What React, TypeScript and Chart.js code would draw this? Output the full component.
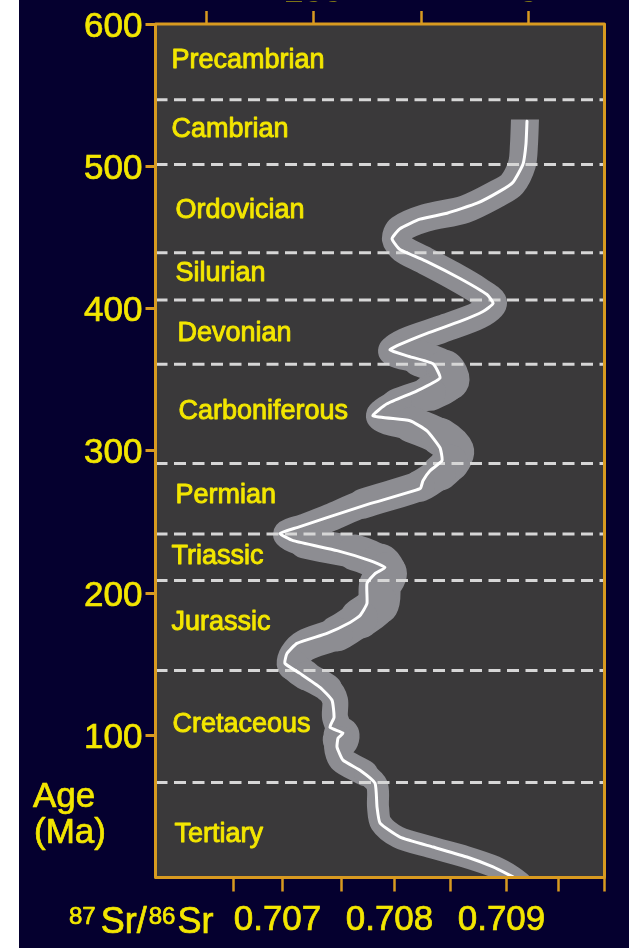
import { useEffect, useRef } from 'react';
import { Chart, registerables } from 'chart.js';

Chart.register(...registerables);

// ---------------- data ----------------
// White seawater 87Sr/86Sr curve: age (Ma) and ratio
const CURVE_AGE = [
  531.6, 515.8, 501.4, 488.8, 482.5, 474.0, 467.0, 462.8, 456.1, 449.1,
  441.4, 433.0, 421.1, 409.8, 403.5, 397.9, 390.9, 382.5, 374.7, 370.9,
  366.7, 361.1, 351.2, 342.1, 333.0, 324.6, 321.1, 314.0, 302.1, 293.0,
  286.0, 278.9, 273.3, 262.8, 253.0, 246.0, 241.8, 236.8, 229.8, 222.8,
  217.9, 213.7, 206.7, 192.6, 184.2, 179.3, 171.6, 164.6, 157.5, 150.5,
  143.5, 133.7, 124.6, 112.6, 105.6, 101.4, 98.0, 91.6, 82.5, 75.4,
  66.3, 49.5, 38.2, 28.4, 21.4, 14.4, 7.4, 0.4,
];
const CURVE_RATIO = [
  0.709183, 0.709174, 0.709147, 0.709058, 0.708942, 0.708737, 0.708469, 0.708228, 0.708049, 0.707978,
  0.708049, 0.70829, 0.708585, 0.708826, 0.70888, 0.70879, 0.708585, 0.70829, 0.708049, 0.70796,
  0.708112, 0.708344, 0.708406, 0.708201, 0.707933, 0.707808, 0.708138, 0.70829, 0.708406, 0.708424,
  0.708317, 0.708254, 0.708228, 0.707781, 0.707397, 0.707129, 0.706978, 0.707094, 0.707487, 0.707781,
  0.707915, 0.707826, 0.707754, 0.707754, 0.707692, 0.707603, 0.707397, 0.707129, 0.70704, 0.707022,
  0.707156, 0.707335, 0.707442, 0.70746, 0.707424, 0.70754, 0.707496, 0.707487, 0.70754, 0.707692,
  0.707826, 0.707844, 0.707871, 0.708049, 0.708344, 0.708647, 0.70888, 0.709058,
];

// Grey uncertainty envelope: centre line age (Ma) and ratio
const BAND_AGE = [
  533.0, 515.4, 501.4, 487.4, 481.1, 469.8, 463.5, 455.8, 448.8, 441.8,
  434.7, 423.5, 412.3, 403.9, 395.4, 385.6, 376.5, 370.2, 364.6, 357.5,
  349.1, 340.7, 332.3, 324.6, 318.2, 309.8, 300.0, 291.6, 284.6, 275.4,
  262.8, 253.0, 246.0, 241.1, 235.4, 228.4, 220.7, 213.7, 205.3, 192.6,
  182.1, 171.6, 163.2, 156.1, 149.8, 142.1, 133.0, 124.6, 112.6, 100.0,
  97.0, 91.6, 82.5, 73.3, 64.9, 49.5, 38.2, 28.4, 21.4, 14.4,
  7.4, 0.4, -4.6,
];
const BAND_RATIO = [
  0.709165, 0.709156, 0.709138, 0.709049, 0.708924, 0.708629, 0.708272, 0.708049, 0.708013, 0.708076,
  0.708246, 0.708513, 0.708754, 0.70888, 0.708754, 0.708424, 0.708094, 0.707987, 0.708228, 0.708451,
  0.708496, 0.708317, 0.708022, 0.707888, 0.708156, 0.708406, 0.70854, 0.708496, 0.708406, 0.708228,
  0.707719, 0.707424, 0.707201, 0.70704, 0.707201, 0.707647, 0.707871, 0.707924, 0.707871, 0.707853,
  0.707692, 0.707487, 0.707201, 0.707112, 0.707094, 0.70721, 0.707406, 0.707469, 0.707469, 0.707527,
  0.70752, 0.707487, 0.707531, 0.707737, 0.707844, 0.707853, 0.707879, 0.708031, 0.708317, 0.708638,
  0.708897, 0.709058, 0.709138,
];

const PERIOD_NAMES = [
  'Precambrian', 'Cambrian', 'Ordovician', 'Silurian', 'Devonian', 'Carboniferous',
  'Permian', 'Triassic', 'Jurassic', 'Cretaceous', 'Tertiary',
];
const PERIOD_LABEL_AGE = [576.0, 527.4, 470.5, 426.3, 384.2, 328.8, 269.8, 227.0, 180.7, 109.1, 31.9];
const PERIOD_BOUNDARY_AGE = [546.8, 501.2, 439.2, 406.0, 360.8, 291.1, 241.5, 208.8, 145.6, 66.8];

const AGE_TICKS = [100, 200, 300, 400, 500, 600];
const RATIO_TICKS = [0.70656, 0.707, 0.70753, 0.708, 0.7085, 0.709, 0.70946, 0.709875];
const RATIO_LABELS = [0.707, 0.708, 0.709];
const TOP_TICKS = [0, 100, 200, 300];
const TOP_LABELS = [0, 200];

// ---------------- layout / style ----------------
const W = 629;
const H = 948;
const PLOT_LEFT = 155.5;
const PLOT_TOP = 22.5;
const PLOT_RIGHT = 604.5;
const PLOT_BOTTOM = 877.5;
const AGE_MIN = 0;
const AGE_MAX = 600;
const RATIO_MIN = 0.705866;
const RATIO_MAX = 0.709875;
const TOP_MIN = -70.7;
const TOP_MAX = 347;

const FONT = '"Liberation Sans", Arial, Helvetica, sans-serif';
const NAVY = '#05002f';
const PLOT_BG = '#3a393a';
const ORANGE = '#d89a20';
const YELLOW = '#f3e600';
const BAND = '#8d8d92';
const DASH = '#d6d6d6';

// thickness of the grey envelope per segment (px)
const BAND_THICKNESS = [
  28, 28, 28, 28, 28, 28, 28, 28, 28, 28,
  28, 28, 28, 28, 28, 28, 28, 30, 36, 38,
  36, 32, 30, 32, 36, 38, 38, 36, 32, 30,
  28, 28, 28, 28, 32, 36, 40, 42, 42, 40,
  36, 32, 32, 32, 30, 28, 26, 26, 26, 36,
  26, 26, 26, 22, 22, 22, 22, 22, 22, 22,
  22, 22, 22,
];
const PERIOD_LABEL_DX = [16, 16, 20, 20, 22, 23, 20, 16, 16, 17, 19];

export default function App() {
  const canvasRef = useRef<HTMLCanvasElement | null>(null);

  useEffect(() => {
    const canvas = canvasRef.current;
    if (!canvas) return;

    const curve = CURVE_AGE.map((a, i) => ({ x: CURVE_RATIO[i], y: a }));
    const band = BAND_AGE.map((a, i) => ({ x: BAND_RATIO[i], y: a }));
    const pxPerMa = (PLOT_BOTTOM - PLOT_TOP) / (AGE_MAX - AGE_MIN);
    const bandTopClip = -(AGE_MAX - BAND_AGE[0]) * pxPerMa;

    const heavyText = (ctx: CanvasRenderingContext2D, t: string, x: number, y: number, w: number) => {
      ctx.fillText(t, x, y);
      ctx.lineWidth = w;
      ctx.strokeText(t, x, y);
    };

    const decor = {
      id: 'decor',
      beforeDraw(chart: any) {
        const { ctx, chartArea: ca } = chart;
        ctx.save();
        ctx.fillStyle = '#ffffff';
        ctx.fillRect(0, 0, W, H);
        ctx.fillStyle = NAVY;
        ctx.fillRect(19, 0, W - 19, H);
        ctx.fillStyle = PLOT_BG;
        ctx.fillRect(ca.left, ca.top, ca.right - ca.left, ca.bottom - ca.top);
        ctx.restore();
      },
      beforeDatasetDraw(chart: any, args: any) {
        if (args.index !== 0) return;
        const { ctx, chartArea: ca, scales } = chart;
        ctx.save();
        ctx.strokeStyle = DASH;
        ctx.lineWidth = 3;
        ctx.setLineDash([12, 6.5]);
        for (const b of PERIOD_BOUNDARY_AGE) {
          const py = scales.y.getPixelForValue(b);
          ctx.beginPath();
          ctx.moveTo(ca.left, py);
          ctx.lineTo(ca.right, py);
          ctx.stroke();
        }
        ctx.restore();
      },
      afterDatasetsDraw(chart: any) {
        const { ctx, chartArea: ca, scales } = chart;
        ctx.save();
        // period names
        ctx.fillStyle = YELLOW;
        ctx.strokeStyle = YELLOW;
        ctx.lineJoin = 'round';
        ctx.font = `27px ${FONT}`;
        ctx.textAlign = 'left';
        ctx.textBaseline = 'alphabetic';
        PERIOD_NAMES.forEach((name, i) => {
          const py = scales.y.getPixelForValue(PERIOD_LABEL_AGE[i]);
          heavyText(ctx, name, ca.left + PERIOD_LABEL_DX[i], py + 9.7, 0.9);
        });
        // frame
        ctx.strokeStyle = ORANGE;
        ctx.lineWidth = 3;
        ctx.strokeRect(ca.left, ca.top, ca.right - ca.left, ca.bottom - ca.top);
        // axis titles
        ctx.fillStyle = YELLOW;
        ctx.strokeStyle = YELLOW;
        ctx.font = `35px ${FONT}`;
        heavyText(ctx, 'Age', 33, 807, 0.7);
        heavyText(ctx, '(Ma)', 34, 843, 0.7);
        let x = 69;
        const parts: [string, number, number][] = [
          ['87', 24, 924],
          ['Sr/', 36, 933],
          ['86', 24, 924],
          ['Sr', 36, 933],
        ];
        parts.forEach(([t, size, base], i) => {
          ctx.font = `${size}px ${FONT}`;
          heavyText(ctx, t, x, base, 0.7);
          x += ctx.measureText(t).width + (i === 0 ? 5 : 2);
        });
        ctx.restore();
      },
    };

    const tickFont = { family: FONT, size: 35 };
    const tickStroke = { textStrokeColor: YELLOW, textStrokeWidth: 0.7 };

    const chart = new Chart(canvas, {
      type: 'scatter',
      data: {
        datasets: [
          {
            label: '87Sr/86Sr',
            data: curve,
            showLine: true,
            borderColor: '#ffffff',
            borderWidth: 3,
            pointRadius: 0,
            tension: 0.15,
            borderCapStyle: 'round',
            borderJoinStyle: 'round',
            clip: 0,
          },
          {
            label: 'envelope',
            data: band,
            showLine: true,
            borderColor: BAND,
            borderWidth: 28,
            pointRadius: 0,
            tension: 0.3,
            borderCapStyle: 'round',
            borderJoinStyle: 'round',
            segment: {
              borderWidth: (c: any) => BAND_THICKNESS[c.p0DataIndex],
            },
            clip: { left: 0, right: 0, bottom: 0, top: bandTopClip },
          },
        ],
      },
      options: {
        responsive: false,
        animation: false,
        devicePixelRatio: 1,
        layout: { padding: { left: 0, top: 0, right: W - PLOT_RIGHT, bottom: 0 } },
        plugins: { legend: { display: false }, tooltip: { enabled: false } },
        scales: {
          x: {
            type: 'linear',
            position: 'bottom',
            min: RATIO_MIN,
            max: RATIO_MAX,
            afterBuildTicks: (s: any) => {
              s.ticks = RATIO_TICKS.map((v) => ({ value: v }));
            },
            afterFit: (s: any) => {
              s.height = H - PLOT_BOTTOM;
            },
            grid: {
              drawOnChartArea: false,
              drawTicks: true,
              tickLength: 14,
              tickWidth: 2.5,
              tickColor: ORANGE,
            },
            border: { display: false },
            ticks: {
              autoSkip: false,
              maxRotation: 0,
              minRotation: 0,
              padding: 8,
              labelOffset: -5,
              color: YELLOW,
              font: tickFont,
              ...tickStroke,
              callback: (v: any) =>
                RATIO_LABELS.some((l) => Math.abs(l - Number(v)) < 1e-7) ? Number(v).toFixed(3) : '',
            },
          },
          x2: {
            type: 'linear',
            position: 'top',
            reverse: true,
            min: TOP_MIN,
            max: TOP_MAX,
            afterBuildTicks: (s: any) => {
              s.ticks = TOP_TICKS.map((v) => ({ value: v }));
            },
            afterFit: (s: any) => {
              s.height = PLOT_TOP;
            },
            grid: {
              drawOnChartArea: false,
              drawTicks: true,
              tickLength: 13,
              tickWidth: 2.5,
              tickColor: ORANGE,
            },
            border: { display: false },
            ticks: {
              autoSkip: false,
              maxRotation: 0,
              minRotation: 0,
              padding: -2,
              color: YELLOW,
              font: tickFont,
              callback: (v: any) => (TOP_LABELS.includes(Number(v)) ? String(v) : ''),
            },
          },
          y: {
            type: 'linear',
            position: 'left',
            min: AGE_MIN,
            max: AGE_MAX,
            afterBuildTicks: (s: any) => {
              s.ticks = AGE_TICKS.map((v) => ({ value: v }));
            },
            afterFit: (s: any) => {
              s.width = PLOT_LEFT;
            },
            grid: {
              drawOnChartArea: false,
              drawTicks: true,
              tickLength: 10,
              tickWidth: 3,
              tickColor: ORANGE,
            },
            border: { display: false },
            ticks: {
              autoSkip: false,
              padding: 3,
              labelOffset: 3,
              color: YELLOW,
              font: tickFont,
              ...tickStroke,
              callback: (v: any) => String(v),
            },
          },
        },
      },
      plugins: [decor],
    } as any);

    return () => chart.destroy();
  }, []);

  return (
    <div style={{ position: 'absolute', left: 0, top: 0, width: W, height: H }}>
      <canvas ref={canvasRef} width={W} height={H} style={{ display: 'block', width: W, height: H }} />
    </div>
  );
}
